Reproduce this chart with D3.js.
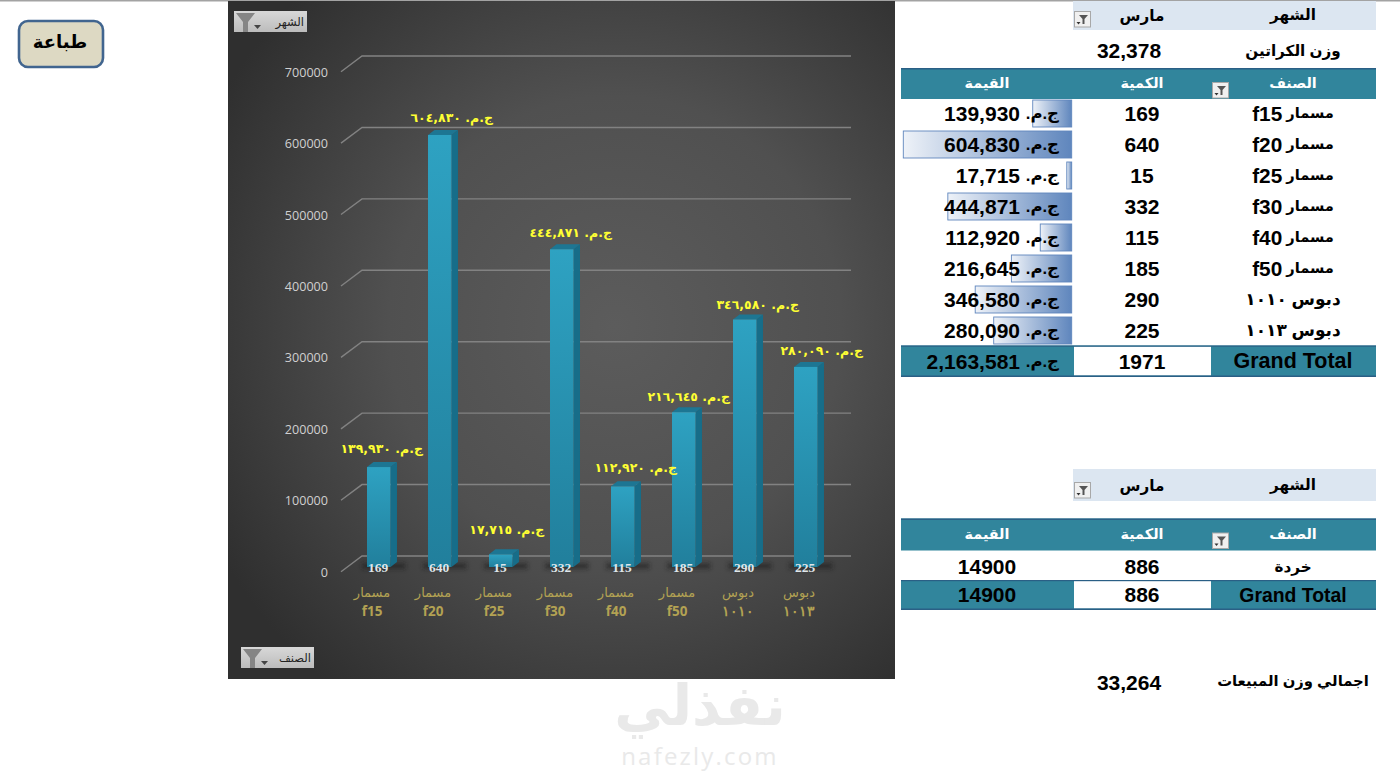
<!DOCTYPE html>
<html>
<head>
<meta charset="utf-8">
<script src="https://cdnjs.cloudflare.com/ajax/libs/d3/7.8.5/d3.min.js"></script>
<style>
  html, body { margin: 0; padding: 0; background: #fff; }
  svg { display: block; }
  text { font-family: "Liberation Sans", "DejaVu Sans", sans-serif; }
  .cell { font-weight: bold; font-size: 21px; fill: #000; text-anchor: middle; dominant-baseline: central; }
  .ar { font-size: 15.2px; }
  .head { font-weight: bold; font-size: 14.4px; fill: #fff; text-anchor: middle; dominant-baseline: central; direction: rtl; }
</style>
</head>
<body>
<div id="chart"></div>
<script>
// Data
const categories = ["مسمار f15", "مسمار f20", "مسمار f25", "مسمار f30", "مسمار f40", "مسمار f50", "دبوس ١٠١٠", "دبوس ١٠١٣"];
const quantities = [169, 640, 15, 332, 115, 185, 290, 225];
const amounts = [139930, 604830, 17715, 444871, 112920, 216645, 346580, 280090];
const yTicks = [0, 100000, 200000, 300000, 400000, 500000, 600000, 700000];
const totalQuantity = 1971;
const totalAmount = 2163581;
const cartonWeight = "32,378";
const scrapCategories = ["خردة"];
const scrapQuantities = [886];
const scrapAmounts = [14900];
const salesWeight = "33,264";

// Excel placed these data labels by hand, so they sit a bit off the bars
const labelNudgeX = [3, 12, 6, 9, 13, 5, 13, 16];
const labelNudgeY = [-19, -17, -25, -17, -19, -16, -15, -16];

const currency = "ج.م.";
const toArabicDigits = (s) => s.replace(/\d/g, (c) => "٠١٢٣٤٥٦٧٨٩"[+c]);
const fmt = d3.format(",");

// Container
const svg = d3.select("#chart").append("svg").attr("width", 1400).attr("height", 772);
const defs = svg.append("defs");

const panelGrad = defs.append("radialGradient").attr("id", "panel").attr("cx", "58%").attr("cy", "48%").attr("r", "68%");
panelGrad.append("stop").attr("offset", "0%").attr("stop-color", "#5c5c5c");
panelGrad.append("stop").attr("offset", "50%").attr("stop-color", "#505050");
panelGrad.append("stop").attr("offset", "100%").attr("stop-color", "#2f2f2f");

const barGrad = defs.append("linearGradient").attr("id", "barFront").attr("x1", 0).attr("y1", 0).attr("x2", 0).attr("y2", 1);
barGrad.append("stop").attr("offset", "0%").attr("stop-color", "#2ea2c2");
barGrad.append("stop").attr("offset", "100%").attr("stop-color", "#217f9c");

const dataBarGrad = defs.append("linearGradient").attr("id", "dataBar").attr("x1", 1).attr("y1", 0).attr("x2", 0).attr("y2", 0);
dataBarGrad.append("stop").attr("offset", "0%").attr("stop-color", "#5f86bd");
dataBarGrad.append("stop").attr("offset", "100%").attr("stop-color", "#eef2f8");

const btnGrad = defs.append("linearGradient").attr("id", "btn").attr("x1", 0).attr("y1", 0).attr("x2", 0).attr("y2", 1);
btnGrad.append("stop").attr("offset", "0%").attr("stop-color", "#d8d8d8");
btnGrad.append("stop").attr("offset", "100%").attr("stop-color", "#bcbcbc");

defs.append("filter").attr("id", "blur").attr("x", "-30%").attr("y", "-100%").attr("width", "160%").attr("height", "300%")
  .append("feGaussianBlur").attr("stdDeviation", 2);

svg.append("rect").attr("width", 1400).attr("height", 1.5).attr("fill", "#a3a3a3");

// Print button
svg.append("rect").attr("x", 19).attr("y", 21).attr("width", 84).attr("height", 46).attr("rx", 9)
  .attr("fill", "#ddd9c3").attr("stroke", "#41658f").attr("stroke-width", 2.6);
svg.append("text").attr("x", 60).attr("y", 42).attr("text-anchor", "middle").attr("dominant-baseline", "central")
  .style("direction", "rtl").style("font-weight", "bold").style("font-size", "18px").text("طباعة");

// Chart panel
const chart = svg.append("g");
chart.append("rect").attr("x", 228).attr("y", 1).attr("width", 667).attr("height", 678).attr("fill", "url(#panel)");

const y = d3.scaleLinear().domain([0, 700000]).range([571.7, 71.7]);
const x = d3.scaleBand().domain(categories).range([348.25, 836.25]).paddingInner(0.615).paddingOuter(0.3075);
const wallShift = { x: 21, y: -15.7 };
const barBaseShift = -4.7;
const sideW = 6.5;
const sideH = 5;

// Gridlines on the wall plus the short floor-side stub
const grid = chart.append("g").attr("fill", "none").attr("stroke", "#828282").attr("stroke-width", 1.4);
grid.selectAll("path").data(yTicks).join("path")
  .attr("d", (d) => {
    const p = d3.path();
    p.moveTo(341, y(d));
    p.lineTo(341 + wallShift.x, y(d) + wallShift.y);
    p.lineTo(851, y(d) + wallShift.y);
    return p.toString();
  });

// Y axis, labels only
const yAxisG = chart.append("g").attr("transform", "translate(328,0.5)")
  .call(d3.axisLeft(y).tickValues(yTicks).tickSize(0).tickPadding(0).tickFormat(d3.format("d")));
yAxisG.select(".domain").remove();
yAxisG.selectAll("text").attr("fill", "#d0d0d0").style("font-family", "'Open Sans', sans-serif").style("font-size", "12.6px");

// Bars
const bars = chart.append("g").selectAll("g").data(categories).join("g");
const base = y(0) + barBaseShift;
const topOf = (i) => y(amounts[i]) + barBaseShift;

bars.append("rect")
  .attr("x", (d) => x(d) - 5).attr("y", base - 4)
  .attr("width", x.bandwidth() + 20).attr("height", 6)
  .attr("fill", "#1c1c1c").attr("opacity", 0.55).attr("filter", "url(#blur)");

bars.append("path").attr("fill", "#176d89")
  .attr("d", (d, i) => {
    const r = x(d) + x.bandwidth();
    return `M${r},${topOf(i)}L${r + sideW},${topOf(i) - sideH}L${r + sideW},${base - sideH}L${r},${base}Z`;
  });
bars.append("path").attr("fill", "#1d7693")
  .attr("d", (d, i) => {
    const l = x(d), r = l + x.bandwidth();
    return `M${l},${topOf(i)}L${l + sideW},${topOf(i) - sideH}L${r + sideW},${topOf(i) - sideH}L${r},${topOf(i)}Z`;
  });
bars.append("rect")
  .attr("x", (d) => x(d)).attr("y", (d, i) => topOf(i))
  .attr("width", x.bandwidth()).attr("height", (d, i) => base - topOf(i))
  .attr("fill", "url(#barFront)");

// Quantity labels at the foot of each bar
bars.append("text")
  .attr("x", (d) => x(d) + 11).attr("y", y(0) - 4)
  .attr("text-anchor", "middle").attr("dominant-baseline", "central")
  .attr("fill", "#dfe6ea")
  .style("font-family", "'Liberation Serif', serif").style("font-weight", "bold").style("font-size", "13.5px")
  .text((d, i) => quantities[i]);

// Amount labels, on top of every bar
chart.append("g").selectAll("text").data(categories).join("text")
  .attr("x", (d, i) => x(d) + x.bandwidth() / 2 + labelNudgeX[i])
  .attr("y", (d, i) => topOf(i) + labelNudgeY[i])
  .attr("text-anchor", "middle").attr("dominant-baseline", "central")
  .attr("fill", "#ffff33")
  .style("direction", "rtl").style("font-weight", "bold").style("font-size", "12.5px")
  .style("font-family", "'DejaVu Sans', sans-serif")
  .text((d, i) => `${currency} ${toArabicDigits(fmt(amounts[i]))}`);

// Category labels on two lines
const catLabels = chart.append("g").selectAll("g").data(categories).join("g")
  .attr("transform", (d) => `translate(${x(d) + 5},0)`)
  .attr("fill", "#b3a253").attr("text-anchor", "middle");
catLabels.append("text").attr("y", 592).attr("dominant-baseline", "central")
  .style("direction", "rtl").style("font-size", "13px").style("font-family", "'DejaVu Sans', sans-serif")
  .text((d) => d.split(" ")[0]);
catLabels.append("text").attr("y", 611).attr("dominant-baseline", "central")
  .style("font-weight", "bold").style("font-size", "13.5px").style("font-family", "'Noto Sans', sans-serif")
  .text((d) => d.split(" ")[1]);

// Pivot field buttons on the chart
const fieldButton = (bx, by, label) => {
  const g = svg.append("g").attr("transform", `translate(${bx},${by})`);
  g.append("rect").attr("width", 73).attr("height", 21).attr("fill", "url(#btn)");
  g.append("path").attr("d", "M2,2H21L14,11V21H9V11Z").attr("fill", "#858585");
  g.append("path").attr("d", "M20,14H27L23.5,18Z").attr("fill", "#444");
  g.append("text").attr("x", 70).attr("y", 11).attr("text-anchor", "end").attr("dominant-baseline", "central")
    .attr("fill", "#222").style("direction", "ltr").style("font-size", "11.5px")
    .style("font-family", "'DejaVu Sans', sans-serif").text(label);
};
fieldButton(234, 11, "الشهر");
fieldButton(241, 647, "الصنف");

// Pivot tables
const colItem = 1293, colQty = 1142, colVal = 987;
const left = 901, right = 1376, whiteL = 1074, whiteR = 1211;
const dataBarRight = 1071.7;
const dataBar = d3.scaleLinear().domain([0, d3.max(amounts)]).range([0, 168.4]);

const filterIcon = (ix, iy) => {
  const g = svg.append("g").attr("transform", `translate(${ix},${iy})`);
  g.append("rect").attr("x", 0.5).attr("y", 0.5).attr("width", 16).attr("height", 15.5).attr("fill", "#f0f0f0").attr("stroke", "#a8a8a8");
  g.append("path").attr("d", "M5,4H14L10.5,8V13H8.5V8Z").attr("fill", "#555");
  g.append("path").attr("d", "M2.5,11H6.5L4.5,13.5Z").attr("fill", "#333");
};

const cell = (cx, cy, txt, cls = "cell", size) => {
  const t = svg.append("text").attr("class", cls).attr("x", cx).attr("y", cy).text(txt);
  if (size) t.style("font-size", size + "px");
  return t.style("direction", "rtl");
};

// Row label: latin codes are set bigger than the arabic word, like the sheet does
const itemCell = (cy, label) => {
  const parts = label.split(" ");
  const latin = /[a-z]/.test(parts[1]);
  const t = svg.append("text").attr("class", "cell").attr("x", colItem).attr("y", cy).style("direction", "rtl");
  t.append("tspan").style("font-size", latin ? "14.6px" : "17px").text(parts[0] + " ");
  t.append("tspan").style("font-size", latin ? "20.8px" : "17px").text(parts[1]);
};

const monthFilter = (ty, h) => {
  svg.append("rect").attr("x", whiteL - 1).attr("y", ty).attr("width", right - whiteL + 1).attr("height", h).attr("fill", "#dce6f1");
  cell(colItem, ty + h / 2 - 1, "الشهر", "cell ar");
  cell(colQty, ty + h / 2, "مارس", "cell ar");
  filterIcon(1074, ty + h - 19);
};

const headerRow = (ty, h) => {
  svg.append("rect").attr("x", left).attr("y", ty).attr("width", right - left).attr("height", h).attr("fill", "#31859c");
  svg.append("rect").attr("x", left).attr("y", ty).attr("width", right - left).attr("height", 1.5).attr("fill", "#2a5f85");
  cell(colVal, ty + h / 2 - 1, "القيمة", "head");
  cell(colQty, ty + h / 2 - 1, "الكمية", "head");
  cell(colItem, ty + h / 2 - 1, "الصنف", "head");
  filterIcon(1212, ty + 14);
};

const totalRow = (ty, h, qty, valueDraw, labelSize) => {
  svg.append("rect").attr("x", left).attr("y", ty).attr("width", right - left).attr("height", h).attr("fill", "#31859c");
  svg.append("rect").attr("x", whiteL).attr("y", ty + 1).attr("width", whiteR - whiteL).attr("height", h - 2).attr("fill", "#fff");
  svg.append("rect").attr("x", left).attr("y", ty).attr("width", right - left).attr("height", 1.2).attr("fill", "#2a5f85");
  svg.append("rect").attr("x", left).attr("y", ty + h - 1).attr("width", right - left).attr("height", 1.5).attr("fill", "#2a5f85");
  cell(colItem, ty + h / 2, "Grand Total", "cell", labelSize).style("direction", "ltr");
  cell(colQty, ty + h / 2, qty);
  valueDraw(ty + h / 2);
};

// Number and currency are separate texts so each can be sized to the sheet
const amountText = (cy, v) => {
  svg.append("text").attr("class", "cell").attr("x", 1020).attr("y", cy)
    .style("text-anchor", "end").text(fmt(v));
  svg.append("text").attr("class", "cell").attr("x", 1059).attr("y", cy)
    .style("direction", "rtl").style("text-anchor", "start").style("font-size", "16.5px").text(currency);
};

// First table
monthFilter(1, 29);
cell(colItem, 50, "وزن الكراتين", "cell ar");
cell(1129, 50, cartonWeight);
headerRow(68, 31);

const rowY = d3.scaleBand().domain(categories).range([98, 346]).paddingInner(4 / 31).paddingOuter(2 / 31);

svg.append("g").selectAll("rect").data(categories).join("rect")
  .attr("x", (d, i) => dataBarRight - dataBar(amounts[i]))
  .attr("y", (d) => rowY(d))
  .attr("width", (d, i) => dataBar(amounts[i]))
  .attr("height", rowY.bandwidth())
  .attr("fill", "url(#dataBar)").attr("stroke", "#5f86bd").attr("stroke-width", 0.9);

categories.forEach((c, i) => {
  const cy = rowY(c) + rowY.bandwidth() / 2 - 0.5;
  itemCell(cy, c);
  cell(colQty, cy, quantities[i]);
  amountText(cy, amounts[i]);
});

totalRow(345.5, 31, totalQuantity, (cy) => amountText(cy, totalAmount), 21.5);

// Second table
monthFilter(469, 32);
headerRow(518.5, 32);
scrapCategories.forEach((c, i) => {
  cell(colItem, 566, c, "cell ar");
  cell(colQty, 566, scrapQuantities[i]);
  cell(colVal, 566, scrapAmounts[i]);
});
totalRow(580, 29.5, scrapQuantities[0], (cy) => cell(colVal, cy, scrapAmounts[0]), 19.4);

// Sales weight
cell(colItem, 681, "اجمالي وزن المبيعات", "cell ar", 14.8);
cell(1129, 682, salesWeight);

// Watermark
svg.append("text").attr("x", 700).attr("y", 705).attr("text-anchor", "middle").attr("dominant-baseline", "central")
  .attr("fill", "#e9e9e9").style("direction", "rtl").style("font-weight", "bold").style("font-size", "56px")
  .style("font-family", "'DejaVu Sans', sans-serif").text("نفذلي");
svg.append("text").attr("x", 700).attr("y", 755).attr("text-anchor", "middle").attr("dominant-baseline", "central")
  .attr("fill", "#e9e9e9").style("font-size", "24px").style("letter-spacing", "2.2px")
  .style("font-family", "'Open Sans', sans-serif").text("nafezly.com");
</script>
</body>
</html>
